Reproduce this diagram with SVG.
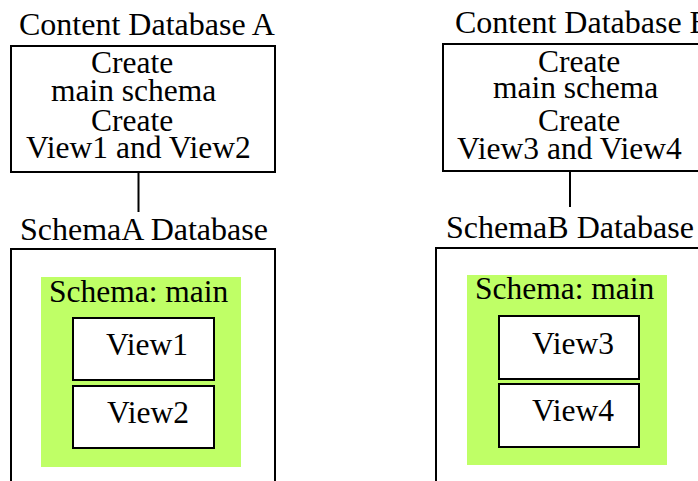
<svg xmlns="http://www.w3.org/2000/svg" width="698" height="481" viewBox="0 0 698 481">
<style>
text{font-family:"Liberation Serif","Times New Roman",serif;font-size:31.5px;fill:#000}
.title{font-size:32px}
.box{fill:#fff;stroke:#000;stroke-width:2}
.schema{fill:#bfff66;stroke:none}
.conn{stroke:#000;stroke-width:2;fill:none}
</style>
<rect width="698" height="481" fill="#fff"/>
<g id="content-a">
<text class="title" x="19" y="35">Content Database A</text>
<rect class="box" x="11" y="46" width="264" height="126"/>
<text x="91" y="73">Create</text>
<text x="51" y="101">main schema</text>
<text x="91" y="131">Create</text>
<text x="26" y="158">View1 and View2</text>
</g>
<g id="content-b">
<text class="title" x="455" y="33">Content Database B</text>
<rect class="box" x="443" y="44" width="270" height="127"/>
<text x="538" y="72">Create</text>
<text x="493" y="98">main schema</text>
<text x="538" y="131">Create</text>
<text x="457" y="159">View3 and View4</text>
</g>
<g id="schemaA-db">
<text class="title" x="20" y="240">SchemaA Database</text>
<rect class="box" x="11" y="249" width="264" height="250"/>
</g>
<g id="schemaA-main">
<rect class="schema" x="41" y="277" width="200" height="190"/>
<text x="49" y="302">Schema: main</text>
</g>
<g id="view1">
<rect class="box" x="73" y="318" width="141" height="62"/>
<text x="106" y="355">View1</text>
</g>
<g id="view2">
<rect class="box" x="73" y="386" width="141" height="62"/>
<text x="107" y="423">View2</text>
</g>
<g id="schemaB-db">
<text class="title" x="446" y="238">SchemaB Database</text>
<rect class="box" x="436" y="248" width="280" height="250"/>
</g>
<g id="schemaB-main">
<rect class="schema" x="467" y="275" width="200" height="190"/>
<text x="475" y="299">Schema: main</text>
</g>
<g id="view3">
<rect class="box" x="499" y="316" width="140" height="63"/>
<text x="532" y="354">View3</text>
</g>
<g id="view4">
<rect class="box" x="499" y="384" width="140" height="63"/>
<text x="532" y="421">View4</text>
</g>
<g id="connectors">
<line class="conn" x1="138.5" y1="173" x2="138.5" y2="212"/>
<line class="conn" x1="570" y1="172" x2="570" y2="207"/>
</g>
</svg>
